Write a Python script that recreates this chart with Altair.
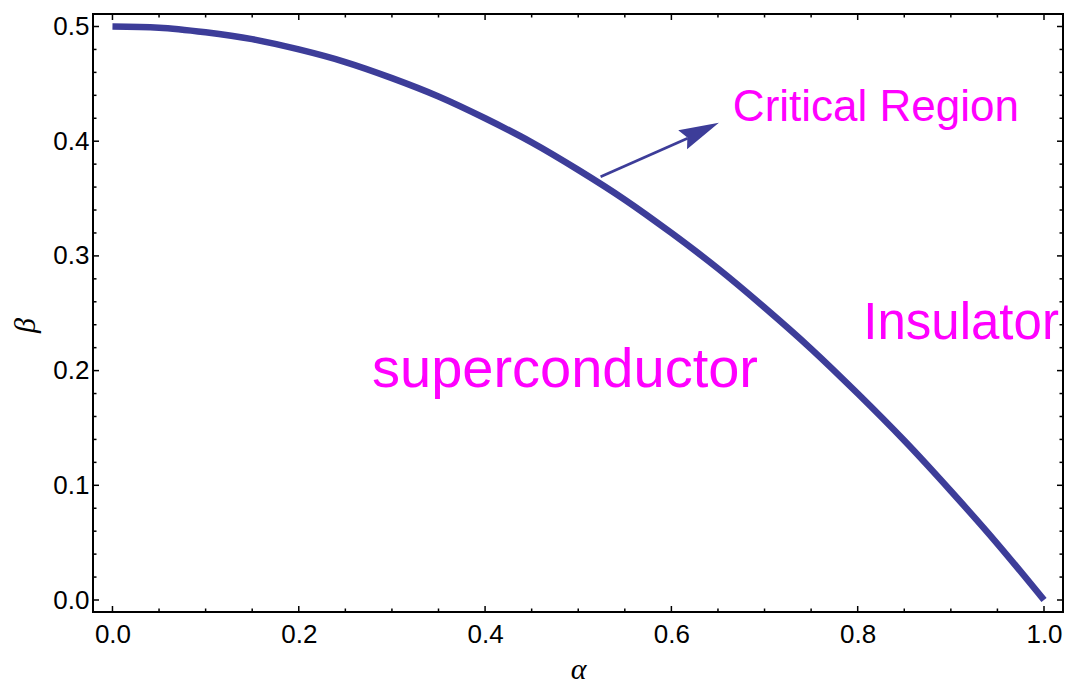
import altair as alt
import pandas as pd

# ---- data ----
alpha = [0.0, 0.05, 0.1, 0.15, 0.2, 0.25, 0.3, 0.35, 0.4, 0.45, 0.5,
         0.55, 0.6, 0.65, 0.7, 0.75, 0.8, 0.85, 0.9, 0.95, 1.0]
beta = [0.5, 0.499, 0.495, 0.489, 0.48, 0.469, 0.455, 0.439, 0.42, 0.399, 0.375,
        0.349, 0.32, 0.289, 0.255, 0.219, 0.18, 0.139, 0.095, 0.049, 0.0]

x_major = [0.0, 0.2, 0.4, 0.6, 0.8, 1.0]
x_minor = [0.05, 0.1, 0.15, 0.25, 0.3, 0.35, 0.45, 0.5, 0.55,
           0.65, 0.7, 0.75, 0.85, 0.9, 0.95]
y_major = [0.0, 0.1, 0.2, 0.3, 0.4, 0.5]
y_minor = [0.02, 0.04, 0.06, 0.08, 0.12, 0.14, 0.16, 0.18, 0.22, 0.24, 0.26, 0.28,
           0.32, 0.34, 0.36, 0.38, 0.42, 0.44, 0.46, 0.48]

labels = ["Critical Region", "Insulator", "superconductor"]
label_x = [0.666, 0.806, 0.2786]
label_y = [0.4176, 0.2276, 0.1857]
label_size = [44, 51, 56]

arrow_start = (0.524, 0.369)
arrow_neck = (0.6175, 0.4025)
arrow_tip = (0.651, 0.416)

W, H = 970, 598
CURVE = "#3D3D99"
MAGENTA = "#FF00FF"

xs = alt.Scale(domain=[-0.0209, 1.0204], nice=False, zero=False)
ys = alt.Scale(domain=[-0.01046, 0.5109], nice=False, zero=False)

xaxis = alt.Axis(values=x_major, format=".1f", title="α", labelPadding=9,
                 titleY=66, titleBaseline="alphabetic")
yaxis = alt.Axis(values=y_major, format=".1f", title="β", labelPadding=4,
                 titleX=-59, titleY=311, titleBaseline="alphabetic", titleAngle=270)


def X(f):
    return alt.X(f, type="quantitative", scale=xs, axis=xaxis)


def Y(f):
    return alt.Y(f, type="quantitative", scale=ys, axis=yaxis)


curve_df = pd.DataFrame({"a": alpha, "b": beta})
curve = alt.Chart(curve_df).mark_line(
    color=CURVE, strokeWidth=6.5, strokeCap="butt", interpolate="monotone"
).encode(x=X("a"), y=Y("b"))

xmaj = pd.DataFrame({"v": x_major})
xmin = pd.DataFrame({"v": x_minor})
ymaj = pd.DataFrame({"v": y_major})
ymin = pd.DataFrame({"v": y_minor})

tick_layers = []
for df, ln in ((xmaj, 6), (xmin, 3.5)):
    tick_layers.append(alt.Chart(df).mark_rule(color="black", strokeWidth=1.5).encode(
        x=X("v"), y=alt.value(H), y2=alt.value(H - ln)))
    tick_layers.append(alt.Chart(df).mark_rule(color="black", strokeWidth=1.5).encode(
        x=X("v"), y=alt.value(0), y2=alt.value(ln)))
for df, ln in ((ymaj, 6), (ymin, 3.5)):
    tick_layers.append(alt.Chart(df).mark_rule(color="black", strokeWidth=1.5).encode(
        y=Y("v"), x=alt.value(0), x2=alt.value(ln)))
    tick_layers.append(alt.Chart(df).mark_rule(color="black", strokeWidth=1.5).encode(
        y=Y("v"), x=alt.value(W), x2=alt.value(W - ln)))

text_layers = []
for t, tx, ty, sz in zip(labels, label_x, label_y, label_size):
    tdf = pd.DataFrame({"x": [tx], "y": [ty], "t": [t]})
    text_layers.append(alt.Chart(tdf).mark_text(
        align="left", baseline="alphabetic", font="Liberation Sans",
        fontSize=sz, color=MAGENTA
    ).encode(x=X("x"), y=Y("y"), text="t:N"))

arrow_df = pd.DataFrame({"x": [arrow_start[0]], "y": [arrow_start[1]],
                         "x2": [arrow_neck[0]], "y2": [arrow_neck[1]]})
arrow_line = alt.Chart(arrow_df).mark_rule(color=CURVE, strokeWidth=2.7).encode(
    x=X("x"), y=Y("y"), x2="x2", y2="y2")

head_df = pd.DataFrame({"x": [arrow_tip[0]], "y": [arrow_tip[1]]})
arrow_head = alt.Chart(head_df).mark_point(
    shape="M0,0 L-1,-0.26 L-0.87,0 L-1,0.26 Z", filled=True, size=6400,
    angle=335, color=CURVE, opacity=1, strokeWidth=0
).encode(x=X("x"), y=Y("y"))

chart = alt.layer(curve, *tick_layers, arrow_line, arrow_head, *text_layers).properties(
    width=W, height=H,
    autosize=alt.AutoSizeParams(type="none"),
    padding={"left": 93, "top": 14, "right": 4, "bottom": 71},
).configure_view(
    stroke="black", strokeWidth=2
).configure_axis(
    grid=False, domain=False, ticks=False, tickSize=0,
    labelFont="Liberation Sans", labelFontSize=26, labelColor="black",
    titleFont="Liberation Serif", titleFontSize=30, titleFontStyle="italic",
    titleFontWeight="normal", titleColor="black"
)

chart.save("out.html", embed_options={"renderer": "svg", "actions": False})
